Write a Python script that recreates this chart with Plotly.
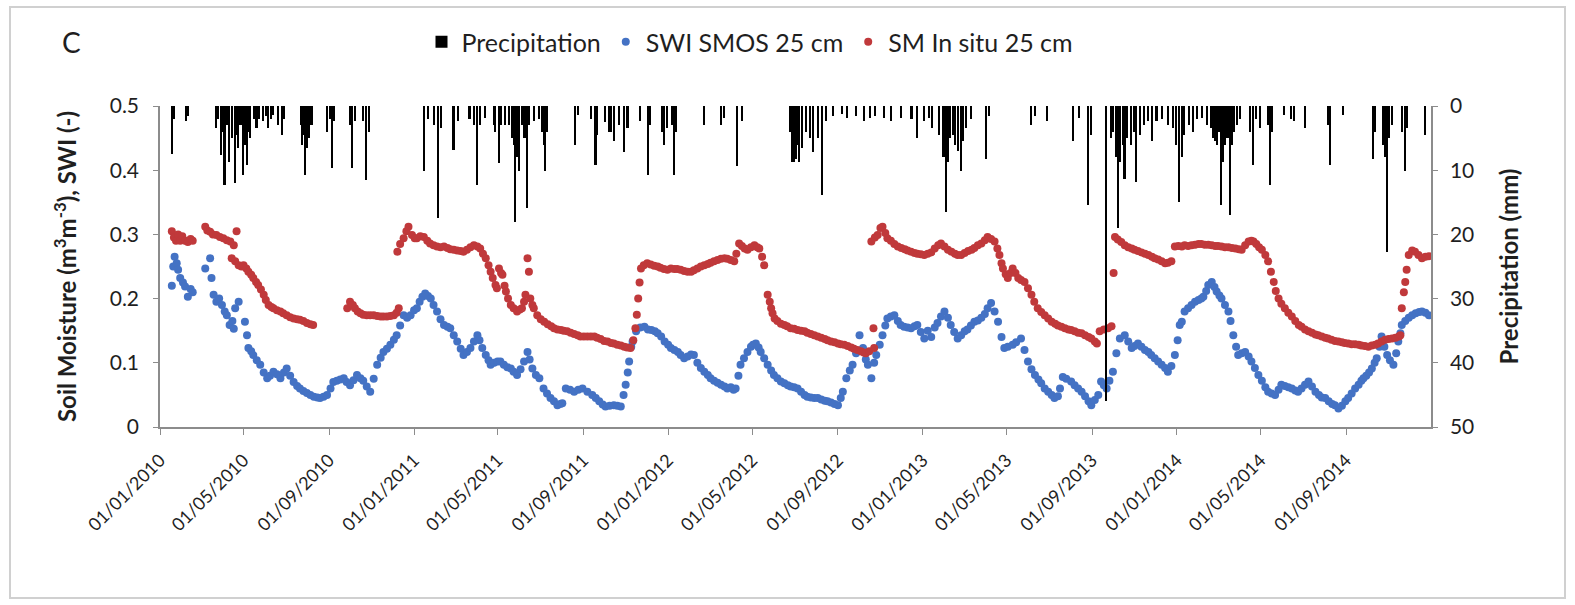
import pandas as pd
import plotly.graph_objects as go

# ---------------- data (day offset from 2010-01-01, value) ----------------
START = "2010-01-01"

precip_mm = [
    (17, 7.4), (20, 2.0), (38, 2.4), (41, 1.5), (81, 3.4), (84, 2.0), (88, 7.6), (91, 4.0), (93, 12.3),
    (96, 3.0), (100, 8.7), (104, 5.0), (108, 12.0), (110, 4.5), (113, 6.6), (116, 3.0), (120, 10.7),
    (122, 6.0), (125, 9.2), (127, 4.0), (130, 5.0), (135, 2.0), (139, 3.5), (142, 2.0), (149, 2.4),
    (152, 1.5), (156, 3.5), (160, 2.0), (163, 1.4), (170, 2.9), (175, 4.5), (178, 2.0), (203, 3.0),
    (205, 6.1), (207, 4.5), (209, 10.7), (211, 6.6), (213, 5.0), (215, 5.0), (218, 3.0), (240, 4.0),
    (244, 2.0), (247, 9.7), (250, 2.4), (274, 3.0), (276, 9.7), (280, 2.4), (292, 2.4), (297, 11.5),
    (300, 4.0),
    (379, 10.2), (385, 2.0), (394, 3.0), (400, 17.5), (404, 3.5), (422, 6.8), (428, 2.4), (445, 2.0),
    (452, 3.0), (456, 12.3), (460, 3.0), (467, 1.9), (480, 3.0), (482, 4.0), (487, 8.9), (490, 3.0),
    (496, 3.0), (502, 3.0), (506, 5.0), (509, 6.0), (511, 18.0), (513, 8.0), (516, 10.2), (520, 3.0),
    (524, 5.0), (528, 15.9), (531, 3.0), (538, 2.4), (545, 2.0), (549, 4.0), (552, 6.1), (554, 10.2),
    (557, 4.0), (597, 6.1), (601, 1.4), (620, 2.0), (626, 9.2), (628, 4.5), (640, 2.5), (645, 4.0),
    (648, 4.0), (652, 5.5), (660, 3.0), (667, 7.1), (672, 3.5), (690, 2.4), (702, 10.7), (705, 3.0),
    (721, 4.0), (725, 6.1), (729, 3.5), (736, 3.0), (739, 10.7), (742, 4.0),
    (782, 3.0), (806, 3.0), (810, 1.9), (830, 9.4), (837, 2.4), (905, 4.0), (908, 8.7), (911, 8.7),
    (914, 8.2), (916, 6.0), (919, 8.7), (923, 6.6), (928, 4.0), (934, 5.0), (938, 7.1), (945, 5.0),
    (952, 13.9), (957, 2.4), (967, 1.5), (980, 1.2), (988, 1.9), (1000, 1.5), (1012, 2.4), (1020, 1.9),
    (1028, 1.5), (1040, 1.9), (1050, 2.4), (1065, 1.9), (1080, 2.0), (1088, 5.0), (1098, 2.4),
    (1105, 1.9),
    (1110, 3.5), (1120, 4.5), (1126, 8.0), (1130, 16.5), (1133, 8.7), (1136, 5.0), (1140, 4.5),
    (1143, 6.0), (1147, 7.0), (1151, 10.2), (1154, 5.5), (1158, 3.5), (1165, 2.0), (1187, 8.2),
    (1192, 1.5), (1252, 3.0), (1257, 1.5), (1274, 2.4), (1312, 5.5), (1320, 1.9), (1333, 15.4),
    (1338, 4.5), (1360, 46.0), (1366, 5.0), (1370, 4.0), (1374, 8.0), (1377, 19.0), (1380, 8.7),
    (1384, 6.0), (1386, 11.3), (1390, 5.0), (1395, 6.1), (1399, 4.0), (1403, 11.8), (1408, 4.5),
    (1414, 3.0), (1420, 2.4), (1425, 5.5), (1432, 2.4), (1440, 2.0), (1449, 3.0), (1455, 3.5),
    (1460, 6.0), (1465, 14.9), (1468, 8.0), (1472, 4.5), (1478, 3.0), (1484, 4.0),
    (1490, 2.0), (1497, 1.9), (1505, 3.0), (1510, 3.5), (1513, 5.0), (1516, 5.5), (1519, 6.0),
    (1522, 4.0), (1525, 15.4), (1528, 8.7), (1531, 6.0), (1534, 5.0), (1537, 17.0), (1540, 6.0),
    (1543, 4.0), (1547, 3.0), (1552, 2.0), (1566, 4.0), (1571, 9.2), (1575, 2.0), (1580, 3.5),
    (1592, 3.0), (1595, 12.3), (1598, 4.0), (1615, 1.4), (1625, 2.0), (1630, 2.4), (1645, 3.5),
    (1679, 3.0), (1681, 9.2), (1700, 1.4), (1743, 8.2), (1746, 4.0), (1758, 6.0), (1761, 8.0),
    (1763, 22.7), (1766, 5.0), (1770, 3.0), (1785, 4.0), (1789, 10.2), (1792, 3.5), (1818, 4.5),
]

swi_smos_25cm = [
    (17, 0.22), (19, 0.25), (21, 0.265), (24, 0.255), (26, 0.245), (29, 0.232), (33, 0.225), (36, 0.219),
    (40, 0.203), (44, 0.215), (47, 0.21),
    (65, 0.247), (72, 0.263), (74, 0.232), (77, 0.206), (81, 0.195), (85, 0.20), (89, 0.19), (93, 0.18),
    (96, 0.174), (100, 0.159), (104, 0.165), (106, 0.153), (108, 0.185), (113, 0.195), (122, 0.164),
    (125, 0.143), (127, 0.123), (131, 0.118), (134, 0.112), (139, 0.104), (144, 0.097), (149, 0.085),
    (154, 0.076), (158, 0.08), (163, 0.086), (168, 0.082), (173, 0.076), (178, 0.085), (182, 0.091),
    (187, 0.08), (192, 0.07), (197, 0.064), (201, 0.06), (206, 0.056), (211, 0.053), (216, 0.05),
    (221, 0.047), (226, 0.046), (230, 0.045), (235, 0.047), (240, 0.05), (245, 0.06), (249, 0.07),
    (254, 0.072), (259, 0.074), (264, 0.076), (268, 0.07), (273, 0.065), (278, 0.073), (283, 0.081),
    (288, 0.076), (292, 0.072), (297, 0.063), (302, 0.055), (307, 0.075), (312, 0.097), (317, 0.108),
    (321, 0.117), (326, 0.122), (331, 0.128), (336, 0.136), (340, 0.143), (345, 0.158), (350, 0.174),
    (355, 0.17),
    (360, 0.174), (365, 0.182), (369, 0.185), (373, 0.195), (377, 0.203), (381, 0.208), (385, 0.204),
    (389, 0.2), (393, 0.19), (398, 0.18), (403, 0.168), (408, 0.159), (413, 0.156), (417, 0.154),
    (422, 0.143), (427, 0.133), (432, 0.122), (436, 0.112), (441, 0.117), (446, 0.123), (451, 0.133),
    (456, 0.143), (459, 0.135), (463, 0.123), (468, 0.112), (472, 0.104), (475, 0.097), (480, 0.1),
    (485, 0.102), (489, 0.102), (494, 0.097), (499, 0.093), (504, 0.091), (508, 0.086), (513, 0.081),
    (518, 0.09), (523, 0.102), (528, 0.117), (531, 0.105), (535, 0.091), (540, 0.081), (545, 0.076),
    (551, 0.06), (556, 0.052), (561, 0.045), (566, 0.04), (571, 0.034), (575, 0.036), (578, 0.037),
    (583, 0.06), (589, 0.058), (595, 0.055), (601, 0.058), (607, 0.06), (614, 0.055), (621, 0.05),
    (626, 0.045), (631, 0.04), (636, 0.035), (640, 0.032), (646, 0.033), (652, 0.034), (657, 0.033),
    (662, 0.032), (666, 0.05), (669, 0.066), (672, 0.085), (674, 0.102), (677, 0.125), (679, 0.133),
    (684, 0.149), (690, 0.155), (696, 0.156), (701, 0.152), (706, 0.151), (711, 0.149), (715, 0.146),
    (720, 0.141), (725, 0.133), (730, 0.128), (734, 0.123),
    (739, 0.12), (744, 0.117), (748, 0.112), (753, 0.107), (758, 0.11), (763, 0.113), (767, 0.112),
    (772, 0.1), (777, 0.092), (782, 0.086), (787, 0.081), (791, 0.076), (796, 0.072), (801, 0.069),
    (806, 0.066), (811, 0.063), (815, 0.06), (820, 0.062), (824, 0.058), (827, 0.06), (831, 0.08),
    (834, 0.097), (839, 0.107), (844, 0.117), (849, 0.125), (852, 0.128), (856, 0.13), (860, 0.124),
    (863, 0.117), (868, 0.107), (873, 0.097), (878, 0.088), (882, 0.081), (887, 0.076), (892, 0.071),
    (897, 0.068), (902, 0.065), (906, 0.063), (911, 0.062), (916, 0.06), (921, 0.055), (926, 0.05),
    (930, 0.047), (935, 0.046), (940, 0.045), (945, 0.045), (950, 0.043), (955, 0.041), (959, 0.04),
    (964, 0.038), (969, 0.036), (974, 0.034), (978, 0.045), (981, 0.055), (986, 0.076), (991, 0.088),
    (995, 0.097), (1000, 0.115), (1005, 0.143), (1010, 0.123), (1014, 0.105), (1017, 0.097),
    (1022, 0.076), (1026, 0.1), (1029, 0.112), (1034, 0.128), (1038, 0.143), (1042, 0.158),
    (1045, 0.169), (1050, 0.172), (1055, 0.174), (1060, 0.165), (1064, 0.159), (1069, 0.156),
    (1074, 0.155), (1079, 0.154), (1084, 0.157), (1088, 0.159), (1093, 0.148), (1098, 0.138),
    (1103, 0.15), (1108, 0.14),
    (1113, 0.155), (1117, 0.162), (1122, 0.172), (1127, 0.18), (1132, 0.17), (1136, 0.159),
    (1141, 0.148), (1146, 0.138), (1151, 0.143), (1156, 0.149), (1160, 0.152), (1165, 0.158),
    (1170, 0.164), (1175, 0.166), (1180, 0.17), (1185, 0.176), (1189, 0.185), (1194, 0.193),
    (1199, 0.18), (1204, 0.164), (1209, 0.14), (1213, 0.123), (1218, 0.125), (1225, 0.128),
    (1230, 0.132), (1237, 0.138), (1242, 0.12), (1247, 0.102), (1252, 0.09), (1257, 0.081),
    (1262, 0.074), (1266, 0.068), (1271, 0.06), (1276, 0.055), (1281, 0.05), (1285, 0.045),
    (1290, 0.048), (1293, 0.06), (1297, 0.078), (1302, 0.075), (1309, 0.071), (1314, 0.065),
    (1319, 0.06), (1324, 0.055), (1329, 0.048), (1334, 0.04), (1338, 0.034), (1343, 0.042),
    (1348, 0.05), (1352, 0.071), (1356, 0.065), (1360, 0.06), (1364, 0.072), (1369, 0.086),
    (1374, 0.115), (1379, 0.138), (1386, 0.143), (1391, 0.133), (1396, 0.123), (1400, 0.126),
    (1405, 0.13), (1410, 0.125), (1415, 0.12), (1420, 0.117), (1424, 0.112), (1429, 0.107),
    (1434, 0.102), (1439, 0.097), (1444, 0.092), (1448, 0.086), (1453, 0.095), (1458, 0.112),
    (1462, 0.135), (1465, 0.159), (1468, 0.164), (1472, 0.18), (1477, 0.185), (1482, 0.19),
    (1487, 0.195),
    (1492, 0.198), (1496, 0.2), (1499, 0.203), (1503, 0.212), (1506, 0.221), (1511, 0.226),
    (1515, 0.218), (1518, 0.211), (1522, 0.205), (1525, 0.2), (1530, 0.19), (1535, 0.18),
    (1538, 0.165), (1542, 0.143), (1546, 0.125), (1549, 0.112), (1554, 0.115), (1559, 0.117),
    (1564, 0.11), (1568, 0.102), (1573, 0.092), (1578, 0.081), (1583, 0.072), (1588, 0.062),
    (1592, 0.055), (1597, 0.052), (1602, 0.05), (1607, 0.058), (1611, 0.066), (1616, 0.064),
    (1621, 0.062), (1626, 0.06), (1631, 0.057), (1635, 0.055), (1640, 0.06), (1645, 0.066),
    (1650, 0.071), (1655, 0.063), (1660, 0.055), (1665, 0.05), (1669, 0.046), (1674, 0.045),
    (1679, 0.04), (1684, 0.036), (1688, 0.034), (1693, 0.029), (1698, 0.033), (1703, 0.04),
    (1707, 0.045), (1712, 0.052), (1717, 0.06), (1722, 0.066), (1726, 0.072), (1729, 0.076),
    (1733, 0.08), (1737, 0.085), (1741, 0.091), (1745, 0.1), (1748, 0.107), (1752, 0.125),
    (1755, 0.141), (1759, 0.125), (1763, 0.112), (1767, 0.104), (1772, 0.097), (1776, 0.115),
    (1779, 0.133), (1782, 0.146), (1784, 0.159), (1789, 0.165), (1794, 0.17), (1799, 0.174),
    (1804, 0.177), (1809, 0.179), (1813, 0.18), (1818, 0.178), (1823, 0.174),
]

sm_insitu_25cm = [
    (17, 0.305), (20, 0.295), (23, 0.29), (26, 0.30), (29, 0.29), (32, 0.297), (36, 0.29), (40, 0.288),
    (44, 0.293), (47, 0.29),
    (65, 0.312), (68, 0.306), (72, 0.304), (76, 0.30), (81, 0.299), (86, 0.296), (91, 0.294), (96, 0.291),
    (101, 0.289), (106, 0.283), (110, 0.305), (103, 0.263), (108, 0.258), (113, 0.252), (117, 0.25),
    (120, 0.252), (124, 0.247), (127, 0.242), (131, 0.237), (134, 0.232), (138, 0.226), (141, 0.221),
    (145, 0.214), (149, 0.206), (152, 0.198), (156, 0.19), (160, 0.187), (163, 0.185), (168, 0.182),
    (173, 0.18), (177, 0.177), (182, 0.174), (187, 0.171), (192, 0.169), (197, 0.168), (201, 0.167),
    (206, 0.165), (211, 0.162), (216, 0.16), (220, 0.159),
    (269, 0.185), (273, 0.195), (277, 0.19), (280, 0.185), (284, 0.18), (288, 0.177), (292, 0.175),
    (297, 0.174), (302, 0.174), (307, 0.174), (312, 0.173), (317, 0.172), (321, 0.172), (326, 0.172),
    (331, 0.173), (336, 0.174), (340, 0.178), (343, 0.185),
    (341, 0.273), (345, 0.285), (350, 0.294), (354, 0.305), (357, 0.312), (362, 0.299), (366, 0.294),
    (369, 0.294), (374, 0.297), (379, 0.296), (384, 0.29), (388, 0.286), (393, 0.283), (398, 0.281),
    (403, 0.28), (408, 0.281), (413, 0.279), (417, 0.277), (422, 0.276), (427, 0.275), (432, 0.274),
    (436, 0.273), (441, 0.276), (446, 0.28), (451, 0.283), (456, 0.281), (460, 0.278), (464, 0.27),
    (468, 0.263), (472, 0.252), (475, 0.242), (478, 0.232), (482, 0.221), (484, 0.216), (487, 0.247),
    (490, 0.24), (492, 0.237), (495, 0.22), (497, 0.211), (500, 0.2), (504, 0.19), (508, 0.185),
    (513, 0.18), (517, 0.183), (520, 0.185), (523, 0.195), (525, 0.206), (528, 0.263), (530, 0.242),
    (532, 0.2), (535, 0.19), (537, 0.185), (542, 0.174), (547, 0.168), (552, 0.164), (557, 0.16),
    (562, 0.157), (566, 0.154), (571, 0.152), (576, 0.151), (580, 0.15), (585, 0.149), (590, 0.147),
    (595, 0.145), (600, 0.143), (604, 0.141), (609, 0.141), (614, 0.141), (619, 0.141), (624, 0.141),
    (628, 0.139), (633, 0.137), (638, 0.134), (643, 0.133), (648, 0.131), (652, 0.13), (657, 0.128),
    (662, 0.127), (667, 0.125), (671, 0.124), (676, 0.123), (680, 0.135), (683, 0.154), (685, 0.175),
    (687, 0.2), (689, 0.225), (691, 0.247), (695, 0.252), (700, 0.255), (705, 0.253), (710, 0.251),
    (715, 0.25), (719, 0.248), (724, 0.246), (729, 0.245), (734, 0.247),
    (739, 0.246), (743, 0.246), (748, 0.245), (753, 0.243), (758, 0.242), (763, 0.242), (767, 0.244),
    (772, 0.247), (777, 0.25), (782, 0.252), (787, 0.254), (791, 0.256), (796, 0.258), (801, 0.26),
    (806, 0.262), (811, 0.263), (815, 0.262), (820, 0.26), (825, 0.258), (828, 0.27), (832, 0.286),
    (836, 0.282), (840, 0.278), (844, 0.276), (849, 0.28), (854, 0.283), (858, 0.28), (861, 0.278),
    (865, 0.265), (868, 0.252),
    (873, 0.206), (876, 0.195), (878, 0.185), (880, 0.177), (883, 0.169), (887, 0.165), (892, 0.161),
    (897, 0.159), (901, 0.157), (906, 0.154), (911, 0.153), (916, 0.151), (921, 0.15), (926, 0.149),
    (930, 0.147), (935, 0.145), (940, 0.143), (945, 0.141), (950, 0.139), (955, 0.137), (959, 0.135),
    (964, 0.133), (969, 0.132), (974, 0.13), (978, 0.129), (983, 0.128), (988, 0.126), (993, 0.124),
    (997, 0.122), (1002, 0.12), (1007, 0.118), (1011, 0.116), (1014, 0.115), (1019, 0.118),
    (1025, 0.154), (1026, 0.123),
    (1022, 0.289), (1027, 0.295), (1031, 0.299), (1035, 0.31), (1038, 0.312), (1042, 0.302),
    (1045, 0.294), (1050, 0.29), (1055, 0.285), (1060, 0.281), (1065, 0.279), (1070, 0.277),
    (1074, 0.275), (1079, 0.273), (1084, 0.271), (1088, 0.27), (1093, 0.269), (1098, 0.268),
    (1103, 0.27), (1108, 0.272), (1113, 0.278), (1118, 0.283), (1122, 0.286),
    (1127, 0.281), (1132, 0.276), (1137, 0.273), (1142, 0.27), (1146, 0.268), (1151, 0.268),
    (1156, 0.271), (1161, 0.274), (1166, 0.276), (1170, 0.279), (1175, 0.283), (1180, 0.286),
    (1185, 0.291), (1189, 0.296), (1194, 0.293), (1199, 0.289), (1203, 0.278), (1206, 0.268),
    (1209, 0.255), (1211, 0.247), (1215, 0.238), (1218, 0.232), (1222, 0.24), (1225, 0.247),
    (1229, 0.24), (1233, 0.232), (1237, 0.229), (1242, 0.226), (1247, 0.216), (1252, 0.206),
    (1256, 0.195), (1261, 0.185), (1266, 0.179), (1271, 0.174), (1276, 0.169), (1281, 0.164),
    (1286, 0.161), (1290, 0.158), (1295, 0.156), (1300, 0.154), (1305, 0.152), (1309, 0.151),
    (1314, 0.149), (1319, 0.147), (1324, 0.146), (1329, 0.143), (1334, 0.14), (1338, 0.138),
    (1343, 0.133), (1346, 0.13), (1350, 0.149), (1356, 0.152), (1362, 0.154), (1367, 0.157),
    (1370, 0.24),
    (1372, 0.296), (1376, 0.292), (1381, 0.288), (1386, 0.283), (1391, 0.28), (1396, 0.278),
    (1400, 0.276), (1405, 0.274), (1410, 0.272), (1415, 0.27), (1420, 0.268), (1425, 0.265),
    (1429, 0.263), (1434, 0.261), (1439, 0.258), (1444, 0.255), (1448, 0.256), (1453, 0.258),
    (1458, 0.281), (1463, 0.282), (1468, 0.281), (1472, 0.283), (1477, 0.282), (1482, 0.283),
    (1487, 0.284),
    (1492, 0.285), (1496, 0.285), (1501, 0.284), (1506, 0.284), (1511, 0.283), (1516, 0.282),
    (1520, 0.282), (1525, 0.281), (1530, 0.28), (1535, 0.28), (1540, 0.279), (1545, 0.278),
    (1550, 0.277), (1554, 0.276), (1559, 0.283), (1564, 0.289), (1568, 0.29), (1571, 0.289),
    (1575, 0.285), (1579, 0.28), (1583, 0.276), (1588, 0.268), (1592, 0.258), (1596, 0.242),
    (1600, 0.226), (1603, 0.212), (1607, 0.2), (1611, 0.192), (1616, 0.185), (1621, 0.178),
    (1626, 0.172), (1631, 0.165), (1636, 0.159), (1640, 0.156), (1645, 0.152), (1650, 0.149),
    (1655, 0.147), (1660, 0.144), (1664, 0.143), (1669, 0.141), (1674, 0.139), (1678, 0.138),
    (1683, 0.136), (1688, 0.134), (1693, 0.133), (1698, 0.132), (1702, 0.131), (1707, 0.13),
    (1712, 0.129), (1717, 0.129), (1722, 0.128), (1726, 0.127), (1731, 0.126), (1736, 0.125),
    (1741, 0.127), (1746, 0.128), (1750, 0.13), (1755, 0.133), (1760, 0.136), (1765, 0.137),
    (1770, 0.138), (1775, 0.139), (1780, 0.141), (1782, 0.143), (1784, 0.185), (1787, 0.21),
    (1789, 0.226), (1791, 0.245), (1794, 0.268), (1799, 0.275), (1803, 0.273), (1808, 0.268),
    (1813, 0.263), (1818, 0.265), (1823, 0.266),
]

x_tick_dates = ["2010-01-01", "2010-05-01", "2010-09-01", "2011-01-01", "2011-05-01", "2011-09-01",
                "2012-01-01", "2012-05-01", "2012-09-01", "2013-01-01", "2013-05-01", "2013-09-01",
                "2014-01-01", "2014-05-01", "2014-09-01"]
left_ticks = [0, 0.1, 0.2, 0.3, 0.4, 0.5]
left_tick_text = ["0", "0.1", "0.2", "0.3", "0.4", "0.5"]
right_ticks = [0, 10, 20, 30, 40, 50]

# ---------------- helpers ----------------
start = pd.Timestamp(START)


def split(pairs):
    days = [p[0] for p in pairs]
    vals = [p[1] for p in pairs]
    return [start + pd.Timedelta(days=d) for d in days], vals


p_x, p_y = split(precip_mm)
b_x, b_y = split(swi_smos_25cm)
r_x, r_y = split(sm_insitu_25cm)

FONT = "Lato"
TXT = "#1f1f1f"
AX = "#8c8c8c"
BLUE = "#4472c4"
RED = "#c0393b"

fig = go.Figure()
fig.add_trace(go.Bar(x=p_x, y=p_y, yaxis="y2", name="Precipitation",
                     marker=dict(color="black", line=dict(width=0)),
                     width=2.2 * 86400000))
fig.add_trace(go.Scatter(x=b_x, y=b_y, mode="markers", name="SWI SMOS 25 cm",
                         marker=dict(color=BLUE, size=8)))
fig.add_trace(go.Scatter(x=r_x, y=r_y, mode="markers", name="SM In situ 25 cm",
                         marker=dict(color=RED, size=8)))

L, R, T, B = 160, 144, 106, 178
W, H = 1575, 605
pw, ph = W - L - R, H - T - B


def px(xp):
    return (xp - L) / pw


def py(yp):
    return (H - B - yp) / ph


fig.update_layout(
    width=W, height=H, autosize=False,
    margin=dict(l=L, r=R, t=T, b=B),
    paper_bgcolor="white", plot_bgcolor="white",
    font=dict(family=FONT, color=TXT, size=20),
    showlegend=True,
    legend=dict(orientation="h", x=px(750), xanchor="center", y=py(42), yanchor="middle",
                font=dict(size=25, family=FONT, color=TXT), itemwidth=30,
                bgcolor="rgba(0,0,0,0)"),
    xaxis=dict(type="date", range=["2010-01-01", "2015-01-01"],
               tickvals=x_tick_dates,
               ticktext=[pd.Timestamp(d).strftime("%d/%m/%Y") for d in x_tick_dates],
               tickangle=-45, ticks="outside", ticklen=6, tickcolor=AX, ticklabelstandoff=8,
               showline=True, linecolor=AX, linewidth=1.5, showgrid=False, zeroline=False,
               tickfont=dict(size=18, family=FONT, color=TXT)),
    yaxis=dict(range=[0, 0.5], tickvals=left_ticks, ticktext=left_tick_text,
               ticks="outside", ticklen=5, tickcolor=AX, ticklabelstandoff=10,
               showline=True, linecolor=AX, linewidth=1.5, showgrid=False, zeroline=False,
               tickfont=dict(size=21, family=FONT, color=TXT),
               title=dict(text="<b>Soil Moisture (m<sup>3</sup>m<sup>-3</sup>), SWI (-)</b>",
                          font=dict(size=24, family=FONT, color=TXT), standoff=26)),
    yaxis2=dict(range=[50, 0], overlaying="y", side="right", tickvals=right_ticks,
                ticks="outside", ticklen=5, tickcolor=AX, ticklabelstandoff=8,
                showline=True, linecolor=AX, linewidth=1.5, showgrid=False, zeroline=False,
                tickfont=dict(size=21, family=FONT, color=TXT),
                title=dict(text="<b>Precipitation (mm)</b>",
                           font=dict(size=24, family=FONT, color=TXT), standoff=28)),
    bargap=0,
)

fig.add_annotation(xref="paper", yref="paper", x=px(72), y=py(42), text="C", showarrow=False,
                   font=dict(size=28, family=FONT, color=TXT), xanchor="center", yanchor="middle")
fig.add_shape(type="rect", xref="paper", yref="paper", x0=px(10), x1=px(1565), y0=py(598), y1=py(7),
              line=dict(color="#d0d0d0", width=2), fillcolor="rgba(0,0,0,0)", layer="below")

fig.write_html("out.html")
